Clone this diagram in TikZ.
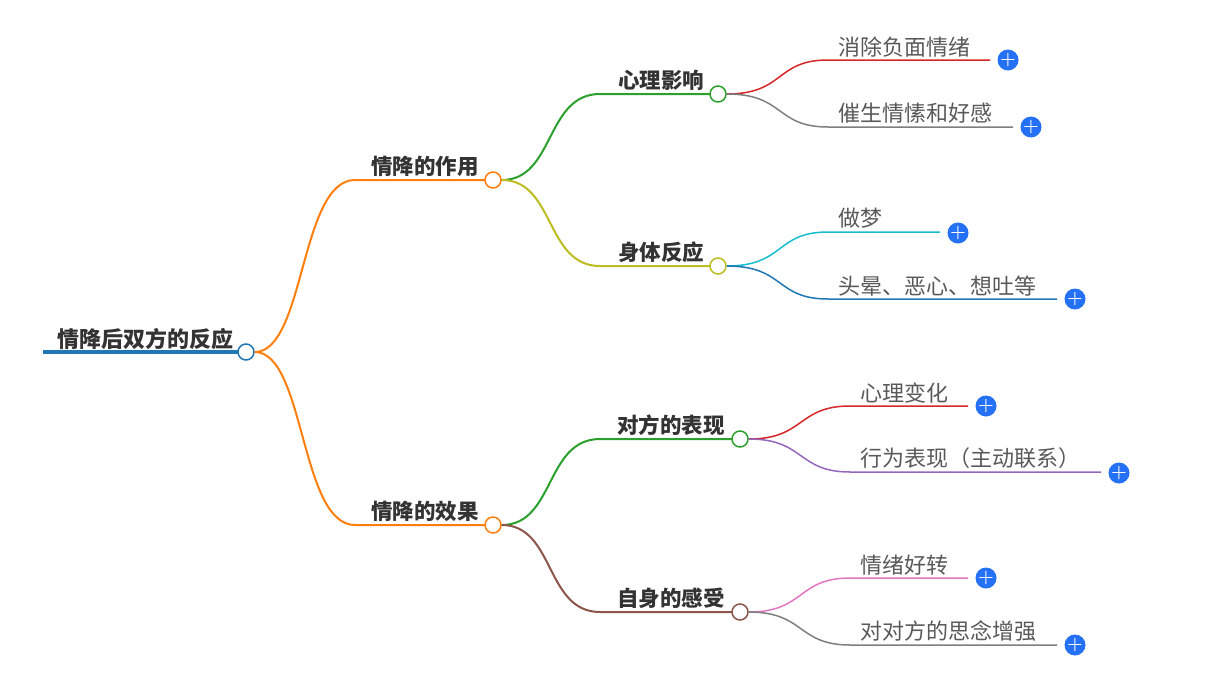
\documentclass[tikz,border=0pt]{standalone}
\usepackage{fontspec}
\newfontfamily\cjk{Noto Sans CJK SC}
\definecolor{cor}{HTML}{FF7F0E}
\definecolor{cgr}{HTML}{2CA02C}
\definecolor{col}{HTML}{BCBD22}
\definecolor{cre}{HTML}{D62728}
\definecolor{cga}{HTML}{7F7F7F}
\definecolor{ccy}{HTML}{17BECF}
\definecolor{cbl}{HTML}{1F77B4}
\definecolor{cpu}{HTML}{9467BD}
\definecolor{cpi}{HTML}{E377C2}
\definecolor{cbr}{HTML}{8C564B}
\definecolor{cplus}{HTML}{2471F5}
\definecolor{ctext}{HTML}{333333}
\tikzset{
  dot/.style={circle,draw=#1,fill=white,line width=1.5pt,minimum size=16pt,inner sep=0pt},
  br/.style={draw=#1,line width=2pt},
  lf/.style={draw=#1,line width=1.5pt},
  midtxt/.style={font=\cjk\bfseries\fontsize{21.5}{21.5}\selectfont,text=ctext,anchor=south,inner sep=2pt},
  leaftxt/.style={font=\cjk\fontsize{22}{22}\selectfont,text=black!65,anchor=south west,inner sep=2pt},
  plus/.style={circle,fill=cplus,minimum size=21pt,inner sep=0pt,text=white,font=\bfseries\fontsize{18}{18}\selectfont},
}
\begin{document}
\begin{tikzpicture}[x=1pt,y=-1pt]
\useasboundingbox[fill=white] (0,0) rectangle (1232,688);
% root
\draw[cbl,line width=4.5pt] (43,352) -- (238,352);
\node[midtxt,font=\cjk\bfseries\fontsize{22}{22}\selectfont] (root) at (145,352) {情降后双方的反应};
\node[dot=cbl] (r) at (246,352) {};
% level 1
\coordinate (a1) at (355,180); \coordinate (b1) at (355,525);
\draw[br=cor] (r.east) .. controls (305,352) and (300,180) .. (a1) -- (486,180);
\draw[br=cor] (r.east) .. controls (305,352) and (300,525) .. (b1) -- (486,525);
\node[midtxt] (ta) at (425,179) {情降的作用};
\node[midtxt] (tb) at (425,524) {情降的效果};
\node[dot=cor] (a) at (493,180) {};
\node[dot=cor] (b) at (493,525) {};
% level 2
\coordinate (a1s) at (600,94); \coordinate (a2s) at (600,266);
\coordinate (b1s) at (600,439); \coordinate (b2s) at (600,612);
\draw[br=cgr] (a.east) .. controls (555,180) and (545,94) .. (a1s) -- (711,94);
\draw[br=col] (a.east) .. controls (555,180) and (545,266) .. (a2s) -- (711,266);
\draw[br=cgr] (b.east) .. controls (555,525) and (545,439) .. (b1s) -- (733,439);
\draw[br=cbr] (b.east) .. controls (555,525) and (545,612) .. (b2s) -- (733,612);
\node[midtxt] (t1) at (661,93) {心理影响};
\node[midtxt] (t2) at (661,265) {身体反应};
\node[midtxt] (t3) at (671,438) {对方的表现};
\node[midtxt] (t4) at (671,611) {自身的感受};
\node[dot=cgr] (n1) at (718,94) {};
\node[dot=col] (n2) at (718,266) {};
\node[dot=cgr] (n3) at (740,439) {};
\node[dot=cbr] (n4) at (740,612) {};
% level 3
\coordinate (l1) at (828,60); \coordinate (l2) at (828,127);
\coordinate (l3) at (828,232); \coordinate (l4) at (828,299);
\coordinate (l5) at (850,406); \coordinate (l6) at (850,472);
\coordinate (l7) at (850,578); \coordinate (l8) at (850,645);
\draw[lf=cre] (n1.east) .. controls (785,94) and (775,60) .. (l1) -- (990,60);
\draw[lf=cga] (n1.east) .. controls (785,94) and (775,127) .. (l2) -- (1013,127);
\draw[lf=ccy] (n2.east) .. controls (785,266) and (775,232) .. (l3) -- (940,232);
\draw[lf=cbl] (n2.east) .. controls (785,266) and (775,299) .. (l4) -- (1057,299);
\draw[lf=cre] (n3.east) .. controls (805,439) and (797,406) .. (l5) -- (968,406);
\draw[lf=cpu] (n3.east) .. controls (805,439) and (797,472) .. (l6) -- (1101,472);
\draw[lf=cpi] (n4.east) .. controls (805,612) and (797,578) .. (l7) -- (968,578);
\draw[lf=cga] (n4.east) .. controls (805,612) and (797,645) .. (l8) -- (1057,645);
\node[leaftxt] (x1) at (836,59) {消除负面情绪};
\node[leaftxt] (x2) at (836,126) {催生情愫和好感};
\node[leaftxt] (x3) at (836,231) {做梦};
\node[leaftxt] (x4) at (836,298) {头晕、恶心、想吐等};
\node[leaftxt] (x5) at (858,405) {心理变化};
\node[leaftxt] (x6) at (858,471) {行为表现（主动联系）};
\node[leaftxt] (x7) at (858,577) {情绪好转};
\node[leaftxt] (x8) at (858,644) {对对方的思念增强};
\node[plus] (p1) at (1008,60) {+};
\node[plus] (p2) at (1031,127) {+};
\node[plus] (p3) at (958,233) {+};
\node[plus] (p4) at (1075,299) {+};
\node[plus] (p5) at (986,406) {+};
\node[plus] (p6) at (1119,473) {+};
\node[plus] (p7) at (986,578) {+};
\node[plus] (p8) at (1075,645) {+};
\end{tikzpicture}
\end{document}
